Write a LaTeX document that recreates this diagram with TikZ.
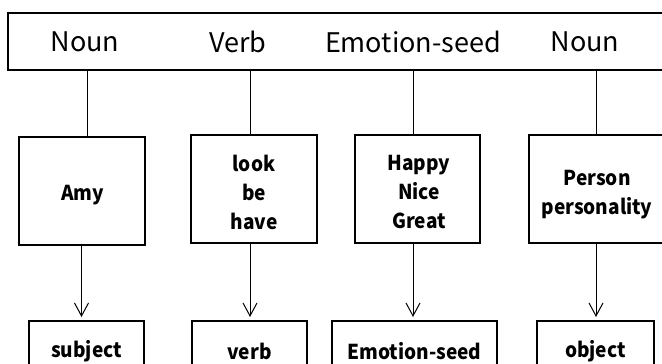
\documentclass[tikz,border=0pt]{standalone}
\usepackage{fontspec}
\setmainfont{Noto Sans CJK KR}
\newfontfamily\wordfont[FakeStretch=0.93]{Noto Sans CJK KR}
\usetikzlibrary{arrows.meta}
\begin{document}
\begin{tikzpicture}[x=1pt,y=-1pt,
  frame/.style={draw, line width=1.1pt, inner sep=0pt},
  header/.style={font=\fontsize{27}{30}\selectfont},
  word/.style={font=\wordfont\fontsize{20.5}{29}\selectfont\bfseries, align=center},
  link/.style={line width=1pt},
  flow/.style={line width=1pt, -{Straight Barb[length=13pt,width=14pt,line width=1pt]}}
]
\useasboundingbox (0,0) rectangle (662,364);
\clip (0,0) rectangle (662,364);

% header bar with the four part-of-speech labels
\node[frame, minimum width=667pt, minimum height=57pt] (bar) at (341.5,41.5) {};
\node[header] (h1) at (85,42) {Noun};
\node[header] (h2) at (238,42) {Verb};
\node[header] (h3) at (413,42) {Emotion-seed};
\node[header] (h4) at (585,42) {Noun};

% word group boxes
\node[frame, minimum width=126pt, minimum height=108pt] (m1) at (82,191) {};
\node[frame, minimum width=126pt, minimum height=108pt] (m2) at (254,189) {};
\node[frame, minimum width=125pt, minimum height=108pt] (m3) at (417.5,189) {};
\node[frame, minimum width=150pt, minimum height=108pt] (m4) at (604,189) {};
% word group contents
\node[word] (w1) at (82.5,195) {Amy};
\node[word] (w2) at (254,192.5) {look\\be\\have};
\node[word] (w3) at (419,192) {Happy\\Nice\\Great};
\node[word] (w4) at (597,194.5) {Person\\personality};

% sentence roles
\node[frame, word, minimum width=115pt, minimum height=60pt] (r1) at (86.5,351) {subject};
\node[frame, word, minimum width=115pt, minimum height=60pt] (r2) at (249.5,351) {verb};
\node[frame, word, minimum width=165pt, minimum height=60pt] (r3) at (414.5,351) {Emotion-seed};
\node[frame, word, minimum width=117pt, minimum height=60pt] (r4) at (595.5,351) {object};

% connectors from the bar down to each group
\coordinate (t1) at (87,70);
\coordinate (t2) at (250,70);
\coordinate (t3) at (413,70);
\coordinate (t4) at (596,70);
\draw[link] (t1) -- (t1 |- m1.north);
\draw[link] (t2) -- (t2 |- m2.north);
\draw[link] (t3) -- (t3 |- m3.north);
\draw[link] (t4) -- (t4 |- m4.north);

% arrows from each group to its role
\coordinate (b1) at (81.5,317);
\coordinate (b2) at (250,317);
\coordinate (b3) at (413,317);
\coordinate (b4) at (596,317);
\draw[flow] (b1 |- m1.south) -- (b1);
\draw[flow] (b2 |- m2.south) -- (b2);
\draw[flow] (b3 |- m3.south) -- (b3);
\draw[flow] (b4 |- m4.south) -- (b4);
\end{tikzpicture}
\end{document}
